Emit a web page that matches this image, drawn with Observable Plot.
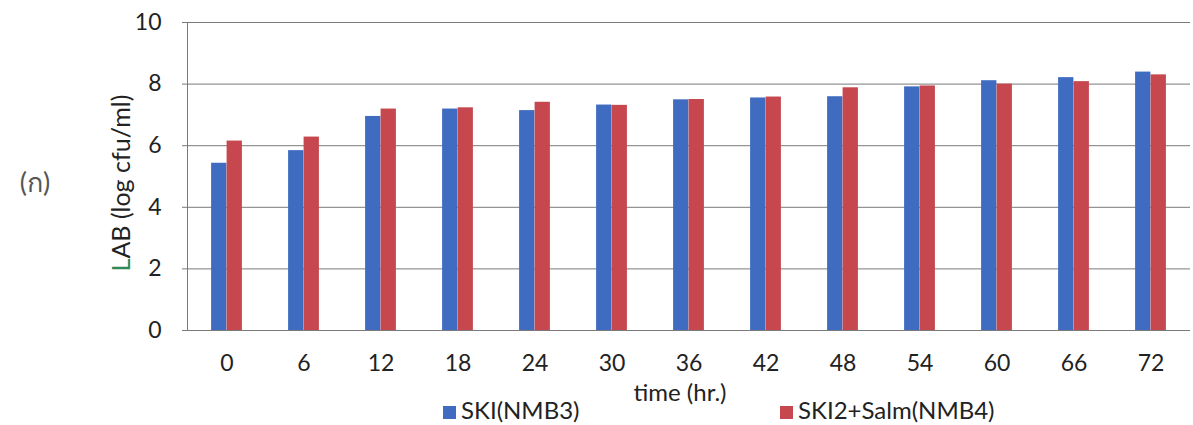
<!DOCTYPE html>
<html><head><meta charset="utf-8">
<script src="https://cdn.jsdelivr.net/npm/d3@7"></script>
<script src="https://cdn.jsdelivr.net/npm/@observablehq/plot@0.6"></script>
<style>
body{margin:0;background:#fff;font-family:Lato,"Open Sans",sans-serif;}
#wrap{position:relative;width:1193px;height:425px;overflow:hidden;}
.abs{position:absolute;white-space:nowrap;color:#222;font-size:24px;line-height:1;}
.sw{display:inline-block;width:13px;height:13px;margin-right:5px;vertical-align:0px;}
</style></head>
<body><div id="wrap"></div>
<script>
const times = ["0","6","12","18","24","30","36","42","48","54","60","66","72"];
const seriesNames = ["SKI(NMB3)","SKI2+Salm(NMB4)"];
const ski  = [5.43,5.84,6.95,7.19,7.14,7.32,7.49,7.55,7.59,7.91,8.11,8.21,8.39];
const salm = [6.15,6.28,7.19,7.23,7.41,7.31,7.50,7.58,7.88,7.94,8.00,8.08,8.30];
const yTicks = [0,2,4,6,8,10];
const colors = ["#3f6cc0","#c6484e"];

const blue = times.map((t,i)=>({time:t, value:ski[i], series:seriesNames[0]}));
const red  = times.map((t,i)=>({time:t, value:salm[i], series:seriesNames[1]}));

const chart = Plot.plot({
  width:1193, height:425,
  marginLeft:187, marginRight:3, marginTop:22, marginBottom:95,
  style:{fontFamily:"Lato, 'Open Sans', sans-serif", fontSize:"23px", color:"#222", background:"transparent"},
  x:{domain:times, padding:0},
  y:{domain:[0,10]},
  color:{domain:seriesNames, range:colors},
  marks:[
    Plot.gridY(yTicks,{stroke:"#7a7a7a", strokeOpacity:1, strokeWidth:1}),
    Plot.barY(blue,{x:"time", y:"value", fill:"series", insetLeft:23.1, insetRight:38.6}),
    Plot.barY(red,{x:"time", y:"value", fill:"series", insetLeft:38.6, insetRight:23.1}),
    Plot.ruleY([0],{stroke:"#7a7a7a"}),
    Plot.axisY(yTicks,{tickSize:5, tickPadding:21, label:null, stroke:"#7a7a7a", fontSize:23}),
    Plot.axisX({tickSize:0, tickPadding:24, label:null, fontSize:23})
  ]
});
const wrap = document.getElementById("wrap");
wrap.appendChild(chart);
const svg = d3.select(chart);
svg.append("line").attr("x1",187.5).attr("x2",187.5).attr("y1",22).attr("y2",330).attr("stroke","#7a7a7a");

function addDiv(html, css){const d=document.createElement("div");d.className="abs";d.innerHTML=html;Object.assign(d.style,css);wrap.appendChild(d);return d;}
addDiv("(ก)",{left:"35px",top:"181px",color:"#555",fontSize:"27px",transform:"translate(-50%,-50%)"});
addDiv('<span style="color:#2e8b57">L</span>AB (log cfu/ml)',{left:"120px",top:"183px",fontSize:"25px",transform:"translate(-50%,-50%) rotate(-90deg)"});
addDiv("time (hr.)",{left:"680px",top:"392px",transform:"translate(-50%,-50%)"});
addDiv(`<span class="sw" style="background:${colors[0]}"></span>${seriesNames[0]}`,{left:"443px",top:"398px"});
addDiv(`<span class="sw" style="background:${colors[1]}"></span>${seriesNames[1]}`,{left:"780px",top:"398px"});
</script></body></html>
